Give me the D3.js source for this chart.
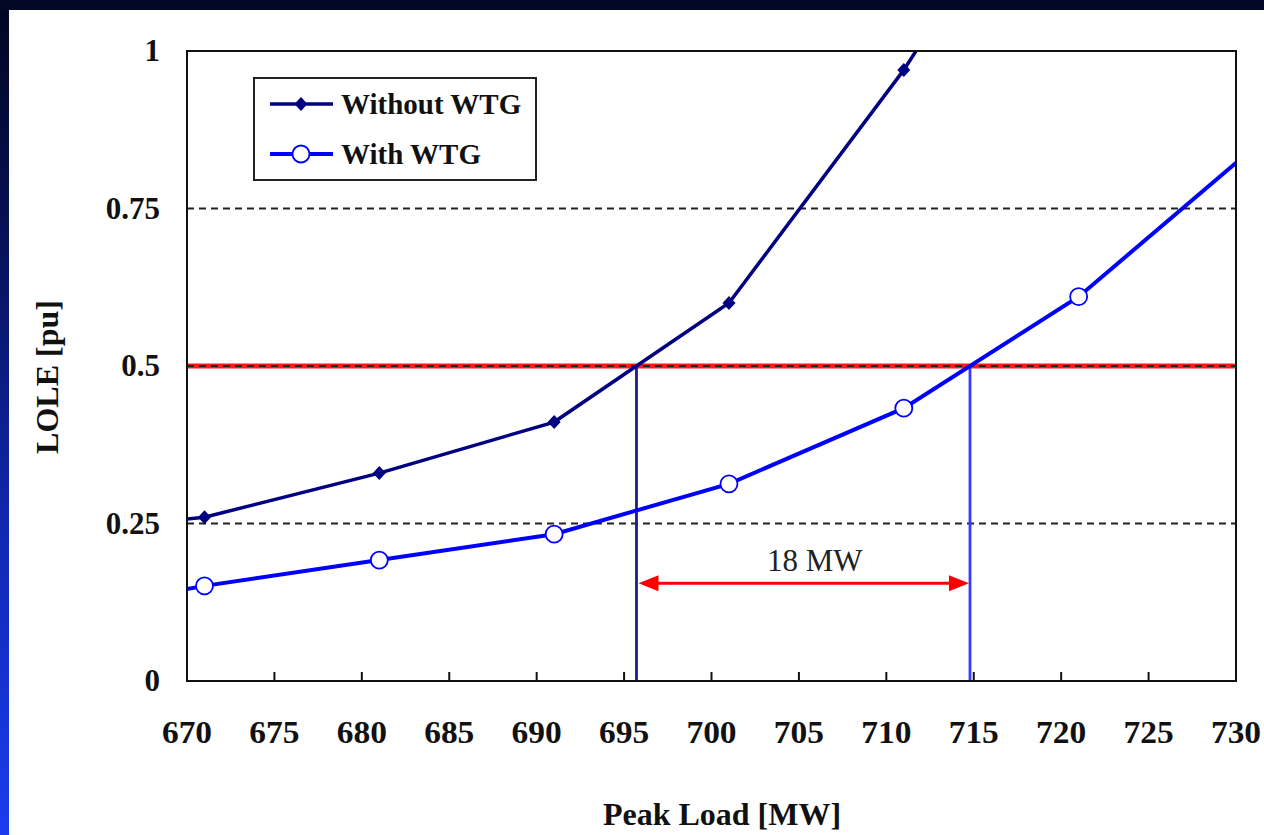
<!DOCTYPE html>
<html>
<head>
<meta charset="utf-8">
<script src="https://cdn.jsdelivr.net/npm/d3@7/dist/d3.min.js"></script>
<style>
  html, body { margin: 0; padding: 0; background: #020826; }
  svg { display: block; }
  text { font-family: "Liberation Serif", "Times New Roman", serif; }
</style>
</head>
<body>
<svg id="chart" width="1264" height="835"></svg>
<script>
// Peak load (MW) at which LOLE was evaluated
const peakLoad = [661, 671, 681, 691, 701, 711, 721, 731];
// LOLE (pu) without wind turbine generators
const loleWithout = [0.23, 0.260, 0.330, 0.411, 0.600, 0.970, 1.40, null];
// LOLE (pu) with wind turbine generators
const loleWith = [0.10, 0.151, 0.192, 0.233, 0.313, 0.433, 0.610, 0.846];
// Axis ticks
const xTicks = [670, 675, 680, 685, 690, 695, 700, 705, 710, 715, 720, 725, 730];
const yTicks = [0, 0.25, 0.5, 0.75, 1];
const yTickLabels = ["0", "0.25", "0.5", "0.75", "1"];
const gridLevels = [0.25, 0.5, 0.75];
// LOLE criterion and the capacity gain annotation
const loleTarget = 0.5;
const arrowLevel = 0.155;
const gainLabel = "18 MW";
const seriesNames = ["Without WTG", "With WTG"];

const svg = d3.select("#chart");
const W = 1264, H = 835;

// slide background
const defs = svg.append("defs");
const grad = defs.append("linearGradient").attr("id", "bg")
  .attr("x1", 0).attr("y1", 0).attr("x2", 0).attr("y2", 1);
[[0, "#01051f"], [0.3, "#07125a"], [0.65, "#1129b4"], [1, "#1a3cee"]]
  .forEach(([o, c]) => grad.append("stop").attr("offset", o).attr("stop-color", c));
svg.append("rect").attr("width", W).attr("height", H).attr("fill", "url(#bg)");
svg.append("rect").attr("x", 0).attr("y", 0).attr("width", W).attr("height", 10).attr("fill", "#020826");
svg.append("rect").attr("x", 9).attr("y", 10).attr("width", W - 9).attr("height", H - 10).attr("fill", "#ffffff");

const plot = { left: 187, right: 1236, top: 51, bottom: 681 };
const x = d3.scaleLinear().domain([670, 730]).range([plot.left, plot.right]);
const y = d3.scaleLinear().domain([0, 1]).range([plot.bottom, plot.top]);

defs.append("clipPath").attr("id", "plotClip").append("rect")
  .attr("x", plot.left).attr("y", plot.top)
  .attr("width", plot.right - plot.left).attr("height", plot.bottom - plot.top);

// red criterion line, then dashed gridlines on top
svg.append("line")
  .attr("x1", plot.left).attr("x2", plot.right)
  .attr("y1", y(loleTarget)).attr("y2", y(loleTarget))
  .attr("stroke", "#ff1a1a").attr("stroke-width", 5);

svg.append("g").selectAll("line").data(gridLevels).join("line")
  .attr("x1", plot.left).attr("x2", plot.right)
  .attr("y1", d => y(d)).attr("y2", d => y(d))
  .attr("stroke", "#222").attr("stroke-width", 2).attr("stroke-dasharray", "7,5");

// where each curve reaches the criterion
function crossing(xs, ys, level) {
  for (let i = 0; i < xs.length - 1; i++) {
    const a = ys[i], b = ys[i + 1];
    if (a == null || b == null) continue;
    if ((a - level) * (b - level) <= 0 && a !== b) {
      return xs[i] + (level - a) / (b - a) * (xs[i + 1] - xs[i]);
    }
  }
  return null;
}
const xcWithout = crossing(peakLoad, loleWithout, loleTarget);
const xcWith = crossing(peakLoad, loleWith, loleTarget);

// drop lines
svg.append("line")
  .attr("x1", x(xcWithout)).attr("x2", x(xcWithout))
  .attr("y1", y(loleTarget)).attr("y2", y(0))
  .attr("stroke", "#1c1c8a").attr("stroke-width", 2.8);
svg.append("line")
  .attr("x1", x(xcWith)).attr("x2", x(xcWith))
  .attr("y1", y(loleTarget)).attr("y2", y(0))
  .attr("stroke", "#3a3aff").attr("stroke-width", 2.8);

// double-headed arrow
const ay = y(arrowLevel);
const ax1 = x(xcWithout) + 2, ax2 = x(xcWith) - 1;
const headL = 20, headW = 8;
svg.append("line")
  .attr("x1", ax1 + headL - 2).attr("x2", ax2 - headL + 2)
  .attr("y1", ay).attr("y2", ay)
  .attr("stroke", "#ff0000").attr("stroke-width", 3);
svg.append("path")
  .attr("d", `M${ax1},${ay} L${ax1 + headL},${ay - headW} L${ax1 + headL},${ay + headW} Z`)
  .attr("fill", "#ff0000");
svg.append("path")
  .attr("d", `M${ax2},${ay} L${ax2 - headL},${ay - headW} L${ax2 - headL},${ay + headW} Z`)
  .attr("fill", "#ff0000");
svg.append("text")
  .attr("x", (ax1 + ax2) / 2 + 11).attr("y", ay - 12)
  .attr("text-anchor", "middle")
  .attr("font-size", 31).attr("fill", "#222")
  .text(gainLabel);

// series
const line = d3.line()
  .defined(d => d[1] != null)
  .x(d => x(d[0])).y(d => y(d[1]));
const clipped = svg.append("g").attr("clip-path", "url(#plotClip)");

const ptsWithout = peakLoad.map((p, i) => [p, loleWithout[i]]).filter(d => d[1] != null);
const ptsWith = peakLoad.map((p, i) => [p, loleWith[i]]);

clipped.append("path").datum(ptsWithout)
  .attr("d", line).attr("fill", "none")
  .attr("stroke", "#000080").attr("stroke-width", 3.5);
clipped.append("path").datum(ptsWith)
  .attr("d", line).attr("fill", "none")
  .attr("stroke", "#0000ff").attr("stroke-width", 4);

// compact diamond marker
const diamondPath = "M0,-7L6.5,0L0,7L-6.5,0Z";
clipped.selectAll(".mk1").data(ptsWithout).join("path")
  .attr("class", "mk1")
  .attr("transform", d => `translate(${x(d[0])},${y(d[1])})`)
  .attr("d", diamondPath).attr("fill", "#000080");
clipped.selectAll(".mk2").data(ptsWith).join("circle")
  .attr("class", "mk2")
  .attr("cx", d => x(d[0])).attr("cy", d => y(d[1])).attr("r", 8.5)
  .attr("fill", "#ffffff").attr("stroke", "#0000ff").attr("stroke-width", 1.8);

// plot frame and inward ticks
svg.append("rect")
  .attr("x", plot.left).attr("y", plot.top)
  .attr("width", plot.right - plot.left).attr("height", plot.bottom - plot.top)
  .attr("fill", "none").attr("stroke", "#111").attr("stroke-width", 2);

svg.append("g").selectAll("line").data(xTicks.slice(1, -1)).join("line")
  .attr("x1", d => x(d)).attr("x2", d => x(d))
  .attr("y1", plot.bottom).attr("y2", plot.bottom - 9)
  .attr("stroke", "#111").attr("stroke-width", 2);

// tick labels
svg.append("g").selectAll("text").data(xTicks).join("text")
  .attr("transform", d => `translate(${x(d)},743) scale(1.08,1)`)
  .attr("text-anchor", "middle")
  .attr("font-size", 31).attr("font-weight", "bold").attr("fill", "#111")
  .text(d => d);
svg.append("g").selectAll("text").data(yTicks).join("text")
  .attr("x", 160).attr("y", d => y(d) + 10)
  .attr("text-anchor", "end")
  .attr("font-size", 31).attr("font-weight", "bold").attr("fill", "#111")
  .text((d, i) => yTickLabels[i]);

// axis titles
svg.append("text")
  .attr("x", 722).attr("y", 825)
  .attr("text-anchor", "middle")
  .attr("font-size", 32).attr("font-weight", "bold").attr("fill", "#111")
  .text("Peak Load [MW]");
svg.append("text")
  .attr("transform", "translate(58,377) rotate(-90)")
  .attr("text-anchor", "middle")
  .attr("font-size", 32).attr("font-weight", "bold").attr("fill", "#111")
  .text("LOLE [pu]");

// legend
const lg = svg.append("g");
lg.append("rect").attr("x", 254).attr("y", 78).attr("width", 282).attr("height", 102)
  .attr("fill", "#fff").attr("stroke", "#222").attr("stroke-width", 2);
const legendRows = [
  { name: seriesNames[0], color: "#000080", width: 3.5, marker: "diamond", cy: 104 },
  { name: seriesNames[1], color: "#0000ff", width: 4, marker: "circle", cy: 154 }
];
legendRows.forEach(r => {
  lg.append("line").attr("x1", 270).attr("x2", 333).attr("y1", r.cy).attr("y2", r.cy)
    .attr("stroke", r.color).attr("stroke-width", r.width);
  if (r.marker === "diamond") {
    lg.append("path").attr("transform", `translate(301,${r.cy})`)
      .attr("d", diamondPath).attr("fill", r.color);
  } else {
    lg.append("circle").attr("cx", 301).attr("cy", r.cy).attr("r", 8.5)
      .attr("fill", "#fff").attr("stroke", r.color).attr("stroke-width", 1.8);
  }
  lg.append("text").attr("x", 341).attr("y", r.cy + 10)
    .attr("font-size", 29).attr("font-weight", "bold").attr("fill", "#111")
    .text(r.name);
});
</script>
</body>
</html>
